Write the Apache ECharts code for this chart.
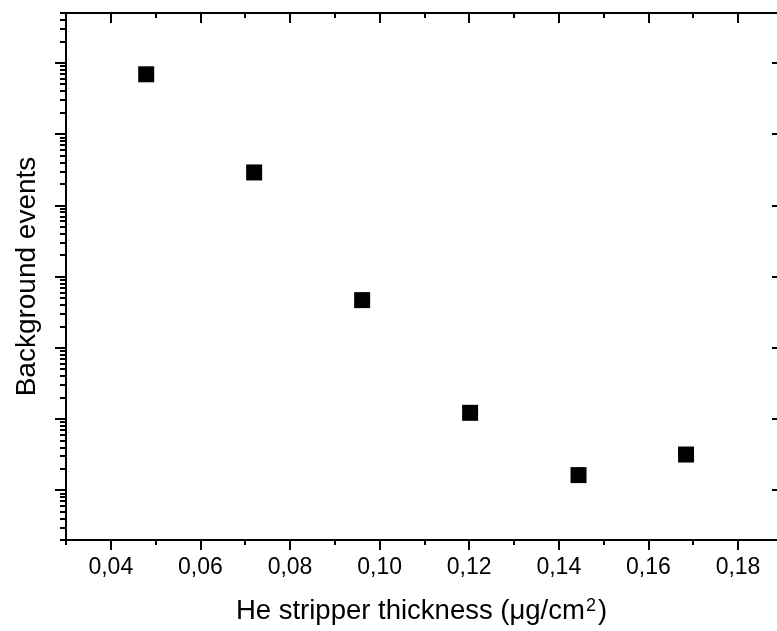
<!DOCTYPE html>
<html>
<head>
<meta charset="utf-8">
<script src="https://cdn.jsdelivr.net/npm/echarts@6/dist/echarts.min.js"></script>
<style>
html,body{margin:0;padding:0;background:#fff;}
#c{width:777px;height:631px;}
</style>
</head>
<body>
<div id="c"></div>
<script>
// Data
var thickness = [0.0479, 0.0720, 0.0961, 0.1202, 0.1444, 0.1684];
var background = [6.9e5, 2.89e4, 466, 12.2, 1.63, 3.17];

// Axis tick values
var xMajorTicks = [0.04, 0.06, 0.08, 0.10, 0.12, 0.14, 0.16, 0.18];
var xMinorTicks = [0.03, 0.05, 0.07, 0.09, 0.11, 0.13, 0.15, 0.17];
var yMajorTicks = [1, 10, 100, 1000, 10000, 100000, 1000000];
var yMinorMult = [2, 3, 4, 5, 6, 7, 8, 9];
var yDecades = [0.1, 1, 10, 100, 1000, 10000, 100000, 1000000];

// visible range (the reference frame is cut at the right edge)
var xMin = 0.03, xMax = 0.1887, yMin = 0.2, yMax = 5e6;

var yMinorTicks = [];
yDecades.forEach(function (d) {
  yMinorMult.forEach(function (m) {
    var v = d * m;
    if (v >= yMin && v <= yMax) yMinorTicks.push(v);
  });
});

var FONT = '"Liberation Sans", Arial, sans-serif';
var lineStyle = { color: '#000', width: 2 };

function xAx(opts) {
  return Object.assign({
    type: 'value', min: xMin, max: xMax,
    splitLine: { show: false },
    axisLine: { show: false },
    axisLabel: { show: false },
    axisTick: { show: false }
  }, opts);
}
function yAx(opts) {
  return Object.assign({
    type: 'log', logBase: 10, min: yMin, max: yMax,
    splitLine: { show: false },
    axisLine: { show: false },
    axisLabel: { show: false },
    axisTick: { show: false }
  }, opts);
}

var chart = echarts.init(document.getElementById('c'), null, { renderer: 'canvas' });
chart.setOption({
  backgroundColor: '#fff',
  animation: false,
  grid: { left: 66, top: 13, right: 0, bottom: 91, containLabel: false },
  xAxis: [
    xAx({
      position: 'bottom',
      name: 'He stripper thickness (\u03bcg/cm{sup|2})',
      nameLocation: 'middle',
      nameGap: 57,
      nameTextStyle: {
        fontFamily: FONT, fontSize: 27.5, color: '#000',
        rich: { sup: { fontFamily: FONT, fontSize: 18, color: '#000', verticalAlign: 'top', padding: [0, 2, 10, 1] } }
      },
      axisLine: { show: true, onZero: false, lineStyle: lineStyle },
      axisTick: { show: true, inside: false, length: 10, customValues: xMajorTicks, lineStyle: lineStyle },
      axisLabel: {
        show: true, margin: 16, customValues: xMajorTicks,
        fontFamily: FONT, fontSize: 23, color: '#000',
        formatter: function (v) { return v.toFixed(2).replace('.', ','); }
      }
    }),
    xAx({
      position: 'bottom',
      axisTick: { show: true, inside: false, length: 5, customValues: xMinorTicks, lineStyle: lineStyle }
    }),
    xAx({
      position: 'top',
      axisLine: { show: true, onZero: false, lineStyle: lineStyle },
      axisTick: { show: true, inside: true, length: 10, customValues: xMajorTicks, lineStyle: lineStyle }
    }),
    xAx({
      position: 'top',
      axisTick: { show: true, inside: true, length: 5, customValues: xMinorTicks, lineStyle: lineStyle }
    })
  ],
  yAxis: [
    yAx({
      position: 'left',
      name: 'Background events',
      nameLocation: 'middle',
      nameGap: 25,
      nameTextStyle: { fontFamily: FONT, fontSize: 28, color: '#000' },
      axisLine: { show: true, onZero: false, lineStyle: lineStyle },
      axisTick: { show: true, inside: false, length: 11, customValues: yMajorTicks, lineStyle: lineStyle }
    }),
    yAx({
      position: 'left',
      axisTick: { show: true, inside: false, length: 6, customValues: yMinorTicks, lineStyle: lineStyle }
    }),
    yAx({
      position: 'right',
      axisLine: { show: false },
      axisTick: { show: true, inside: true, length: 5, customValues: yMajorTicks, lineStyle: lineStyle }
    })
  ],
  series: [{
    type: 'scatter',
    xAxisIndex: 0,
    yAxisIndex: 0,
    symbol: 'rect',
    symbolSize: 16,
    itemStyle: { color: '#000', opacity: 1 },
    data: thickness.map(function (x, i) { return [x, background[i]]; })
  }]
});
</script>
</body>
</html>
